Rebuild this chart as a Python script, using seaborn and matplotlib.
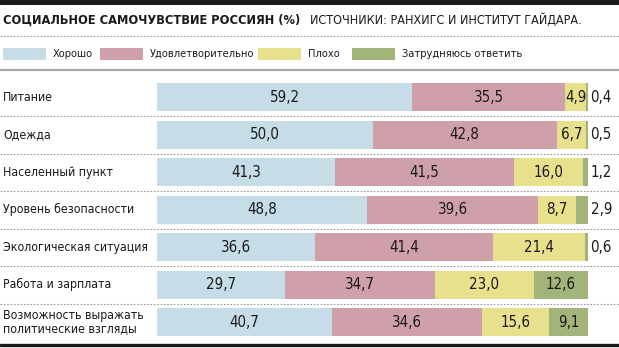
import matplotlib
matplotlib.use("Agg")
import matplotlib.pyplot as plt
import seaborn as sns
import pandas as pd
from matplotlib.patches import Rectangle
from matplotlib.lines import Line2D

categories = ["Питание", "Одежда", "Населенный пункт", "Уровень безопасности",
              "Экологическая ситуация", "Работа и зарплата",
              "Возможность выражать\nполитические взгляды"]
series_names = ["Хорошо", "Удовлетворительно", "Плохо", "Затрудняюсь ответить"]
good = [59.2, 50.0, 41.3, 48.8, 36.6, 29.7, 40.7]
ok = [35.5, 42.8, 41.5, 39.6, 41.4, 34.7, 34.6]
bad = [4.9, 6.7, 16.0, 8.7, 21.4, 23.0, 15.6]
unsure = [0.4, 0.5, 1.2, 2.9, 0.6, 12.6, 9.1]
title = "СОЦИАЛЬНОЕ САМОЧУВСТВИЕ РОССИЯН (%)"
source = "ИСТОЧНИКИ: РАНХИГС И ИНСТИТУТ ГАЙДАРА."

colors = ["#c6dde8", "#d0a0aa", "#e7e08d", "#a3b47b"]

sns.set_theme(style="white")
plt.rcParams["font.family"] = ["Liberation Sans Narrow", "DejaVu Sans"]
plt.rcParams["font.stretch"] = "condensed"

W, H = 619, 348
fig = plt.figure(figsize=(W / 100, H / 100), dpi=100)

def fx(px):
    return px / W

def fy(py):
    return 1 - py / H

ax_top, ax_bot = 78.5, 341
ax = fig.add_axes([fx(157), fy(ax_bot), fx(588) - fx(157), fy(ax_top) - fy(ax_bot)])

series = [good, ok, bad, unsure]
cum = []
run = [0.0] * len(categories)
for s in series:
    run = [a + b for a, b in zip(run, s)]
    cum.append(list(run))

for i in range(3, -1, -1):
    df = pd.DataFrame({"cat": categories, "val": cum[i]})
    sns.barplot(data=df, y="cat", x="val", orient="h", color=colors[i],
                saturation=1, width=0.75, ax=ax, linewidth=0)

def fmt(v):
    return f"{v:.1f}".replace(".", ",")

for j in range(len(categories)):
    left = 0.0
    for i, s in enumerate(series):
        v = s[j]
        if v >= 4:
            ax.text(left + v / 2, j, fmt(v), ha="center", va="center",
                    fontsize=10.8, color="#1a1a1a")
        else:
            ax.text(cum[3][j] + 0.6, j, fmt(v), ha="left", va="center",
                    fontsize=10.8, color="#1a1a1a")
        left += v

ax.set_xlim(0, 100)
ax.set_ylim(6.5, -0.5)
ax.axis("off")

# category labels
row_h = (ax_bot - ax_top) / 7
for j, c in enumerate(categories):
    yc = ax_top + row_h * (j + 0.5)
    fig.text(fx(3), fy(yc), c, ha="left", va="center", fontsize=8.8,
             color="#1a1a1a", linespacing=1.05)

# separators
for j in range(1, 7):
    yb = ax_top + row_h * j
    fig.add_artist(Line2D([0, 1], [fy(yb), fy(yb)], color="#999999",
                          lw=0.8, linestyle=(0, (1.5, 1.5))))

# header
fig.add_artist(Rectangle((0, fy(5)), 1, fy(0) - fy(5), color="#1a1a1a",
                         transform=fig.transFigure, lw=0))
fig.text(fx(3), fy(20), title, ha="left", va="center", fontsize=9.2,
         fontweight="bold", color="#1a1a1a")
fig.text(fx(310), fy(20.5), source, ha="left", va="center", fontsize=9.0,
         color="#1a1a1a")
fig.add_artist(Line2D([0, 1], [fy(36), fy(36)], color="#999999",
                      lw=0.8, linestyle=(0, (1.5, 1.5))))

# legend
leg_x = [3, 100, 258, 352]
for i, name in enumerate(series_names):
    fig.add_artist(Rectangle((fx(leg_x[i]), fy(60)), fx(43), fy(48) - fy(60),
                             color=colors[i], transform=fig.transFigure, lw=0))
    fig.text(fx(leg_x[i] + 50), fy(54), name, ha="left", va="center",
             fontsize=7.9, color="#1a1a1a")
fig.add_artist(Line2D([0, 1], [fy(70), fy(70)], color="#aaaaaa", lw=1.6))
fig.add_artist(Line2D([0, 1], [fy(345), fy(345)], color="#1a1a1a", lw=2.4))

fig.savefig("out.png", dpi=100)
